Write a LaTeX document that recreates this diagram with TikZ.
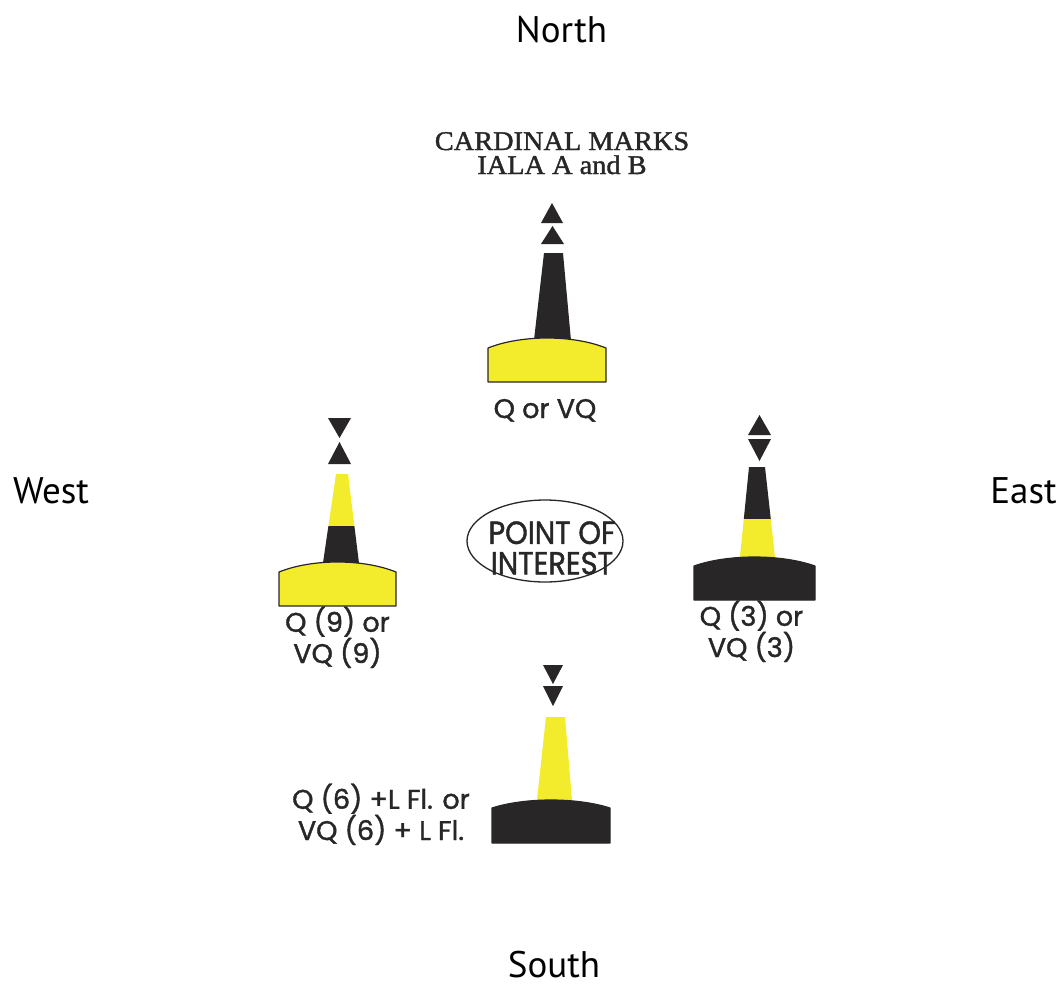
\documentclass[tikz,border=0pt]{standalone}
\usepackage{fontspec}
\setmainfont{Liberation Serif}
\newfontfamily\headingfont[FakeBold=1.4,FakeStretch=1.05]{Liberation Serif}
\newfontfamily\compassfont{PT Sans}
\newfontfamily\lightfont[FakeBold=1.4]{Poppins}
\newfontfamily\poifont[FakeStretch=0.9,FakeBold=1.3]{Poppins}
\usetikzlibrary{shapes.geometric}

\definecolor{markyellow}{RGB}{242,236,44}
\definecolor{markdark}{RGB}{40,38,38}

% buoy body: #1 left x, #2 right x, #3 shoulder y, #4 crown y, #5 bottom y, #6 style
\newcommand\buoybody[6]{%
  \draw[#6] (#1,#5) -- (#1,#3)
    .. controls ({#1+0.28*(#2-#1)},{#3-(#3-#4)*4/3})
           and ({#2-0.28*(#2-#1)},{#3-(#3-#4)*4/3}) .. (#2,#3)
    -- (#2,#5) -- cycle;}

% two-line texts are placed by the baseline of their last line
\tikzset{
  compass/.style={font=\compassfont\fontsize{37}{37}\selectfont, anchor=base, inner sep=0pt, text=black},
  heading/.style={font=\headingfont\fontsize{27}{24}\selectfont, align=center, anchor=base, inner sep=0pt, text=markdark},
  lightchar/.style={font=\lightfont\fontsize{27}{23.5}\selectfont, align=center, anchor=base, inner sep=0pt, text=markdark},
  topmark/.style={fill=markdark},
  darkpart/.style={fill=markdark},
  yellowpart/.style={fill=markyellow},
  yellowbody/.style={fill=markyellow, draw=markdark, line width=1.2pt, line join=round},
  darkbody/.style={fill=markdark, draw=markdark, line width=1.2pt, line join=round},
}

\begin{document}
\begin{tikzpicture}[x=1pt, y=-1pt]
\fill[white] (0,0) rectangle (1061,986);
\useasboundingbox (0,0) rectangle (1061,986);

% compass points
\node[compass] (north) at (561.5,42) {North};
\node[compass] (west)  at (51,503)   {West};
\node[compass] (east)  at (1023.5,503) {East};
\node[compass] (south) at (554,977)  {South};

% heading
\node[heading] (title) at (562,174) {CARDINAL MARKS\\IALA A and B};

% ---- North mark: black over yellow, two cones up
\fill[topmark] (541,223) -- (563,223) -- (552,203) -- cycle;
\fill[topmark] (541,244) -- (564,244) -- (552.5,226) -- cycle;
\fill[darkpart] (544,253) -- (563,253) -- (571.5,346) -- (533.3,346) -- cycle;
\buoybody{488}{606}{348}{338}{382}{yellowbody}
\node[lightchar] (nlab) at (545,418) {Q or VQ};

% ---- West mark: yellow-black-yellow, cones point to point
\fill[topmark] (328,418) -- (351,418) -- (339.5,438) -- cycle;
\fill[topmark] (328,464) -- (351,464) -- (339.5,442) -- cycle;
\fill[yellowpart] (336,474) -- (348,474) -- (354.4,526) -- (328.4,526) -- cycle;
\fill[darkpart] (328.4,526) -- (354.4,526) -- (359.7,569) -- (322.1,569) -- cycle;
\buoybody{279}{396}{572}{562}{606}{yellowbody}
\node[lightchar] (wlab) at (337.5,663) {Q (9) or\\VQ (9)};

% ---- East mark: black-yellow-black, cones base to base
\fill[topmark] (748,435) -- (771,435) -- (759.5,415) -- cycle;
\fill[topmark] (748,439) -- (771,439) -- (759.5,461) -- cycle;
\fill[darkpart] (749,467) -- (765,467) -- (770.8,519) -- (743.8,519) -- cycle;
\fill[yellowpart] (743.8,519) -- (770.8,519) -- (775.6,563) -- (739.3,563) -- cycle;
\buoybody{694}{815}{566}{557}{600}{darkbody}
\node[lightchar] (elab) at (751.5,657) {Q (3) or\\VQ (3)};

% ---- South mark: yellow over black, two cones down
\fill[topmark] (543,665) -- (563,665) -- (553,684) -- cycle;
\fill[topmark] (543,686) -- (563,686) -- (553,706) -- cycle;
\fill[yellowpart] (546,717) -- (565,717) -- (572.5,806) -- (536.3,806) -- cycle;
\buoybody{492}{610}{808}{800}{843}{darkbody}
\node[lightchar] (slab) at (381,840) {Q (6) +L Fl. or\\VQ (6) + L Fl.};

% point of interest
\node[draw=markdark, line width=1.3pt, ellipse, minimum width=156pt, minimum height=82pt,
      inner sep=0pt] (poiring) at (545,541) {};
\node[font=\poifont\fontsize{32}{30.5}\selectfont, text=markdark, align=center, inner sep=0pt]
      (poi) at (552,548) {POINT OF\\INTEREST};
\end{tikzpicture}
\end{document}
